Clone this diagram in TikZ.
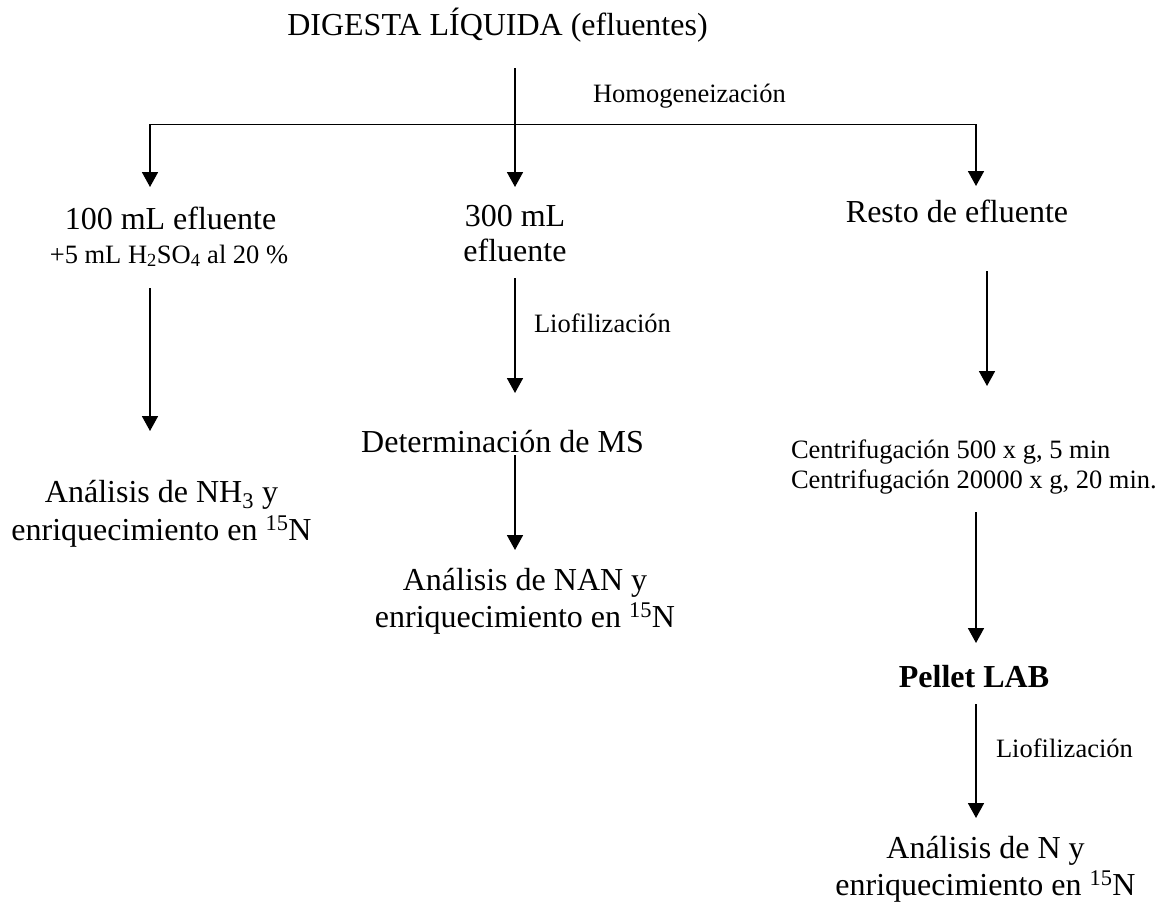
\documentclass[tikz,border=0pt]{standalone}
\usepackage{fontspec}
\setmainfont{Liberation Serif}
\usetikzlibrary{arrows.meta}
\begin{document}
\begin{tikzpicture}[x=1pt,y=-1pt,
  big/.style={font=\fontsize{32}{37}\selectfont, inner sep=0pt, outer sep=0pt},
  bigbold/.style={font=\fontsize{32}{37}\selectfont\bfseries, inner sep=0pt, outer sep=0pt},
  small/.style={font=\fontsize{26.5}{30}\selectfont, inner sep=0pt, outer sep=0pt},
  arr/.style={line width=1.8pt, -{Triangle[width=16pt,length=15pt]}},
  ln/.style={line width=1.8pt}]
\useasboundingbox (0,0) rectangle (1167,906);

% text nodes (multi-line nodes are anchored at the baseline of their last line)
\node[big, anchor=base] (title) at (497.5,35) {DIGESTA LÍQUIDA (efluentes)};
\node[small, anchor=base west] (hom) at (593,102) {Homogeneización};
\node[big, anchor=base] (n100) at (170.5,229) {100 mL efluente};
\node[small, anchor=base] (n100b) at (169,263) {+5 mL H\textsubscript{2}SO\textsubscript{4} al 20 \%};
\node[big, anchor=base, align=center] (n300) at (515,261) {300 mL\\[-2pt]efluente};
\node[big, anchor=base] (resto) at (957,222) {Resto de efluente};
\node[small, anchor=base west] (lio1) at (534,332) {Liofilización};
\node[big, anchor=base] (det) at (502.5,452) {Determinación de MS};
\node[big, anchor=base, align=center] (nh3) at (161.5,540) {Análisis de NH\textsubscript{3} y\\[1pt]enriquecimiento en \textsuperscript{15}N};
\node[big, anchor=base, align=center] (nan) at (525,627) {Análisis de NAN y\\enriquecimiento en \textsuperscript{15}N};
\node[small, anchor=base west, align=left] (cen) at (791,488) {Centrifugación 500 x g, 5 min\\Centrifugación 20000 x g, 20 min.};
\node[bigbold, anchor=base] (pel) at (974,687) {Pellet LAB};
\node[small, anchor=base west] (lio2) at (996,757) {Liofilización};
\node[big, anchor=base, align=center] (ann) at (985.5,895) {Análisis de N y\\enriquecimiento en \textsuperscript{15}N};

% connector end points
\coordinate (titleout) at (515,68);
\coordinate (branch) at (515,124.5);
\coordinate (in100) at (150,187);
\coordinate (in300) at (515,187);
\coordinate (inresto) at (976,186);
\coordinate (out100) at (150,288);
\coordinate (innh3) at (150,431);
\coordinate (out300) at (515,278);
\coordinate (indet) at (515,393);
\coordinate (outdet) at (515,455);
\coordinate (innan) at (515,550);
\coordinate (outresto) at (987,271);
\coordinate (incen) at (987,386);
\coordinate (outcen) at (976,512);
\coordinate (inpel) at (976,643);
\coordinate (outpel) at (976,704);
\coordinate (inann) at (976,818);

% connectors
\draw[arr] (titleout) -- (in300);
\draw[arr] (branch) -| (in100);
\draw[arr] (branch) -| (inresto);
\draw[arr] (out100) -- (innh3);
\draw[arr] (out300) -- (indet);
\draw[arr] (outdet) -- (innan);
\draw[arr] (outresto) -- (incen);
\draw[arr] (outcen) -- (inpel);
\draw[arr] (outpel) -- (inann);
\end{tikzpicture}
\end{document}
